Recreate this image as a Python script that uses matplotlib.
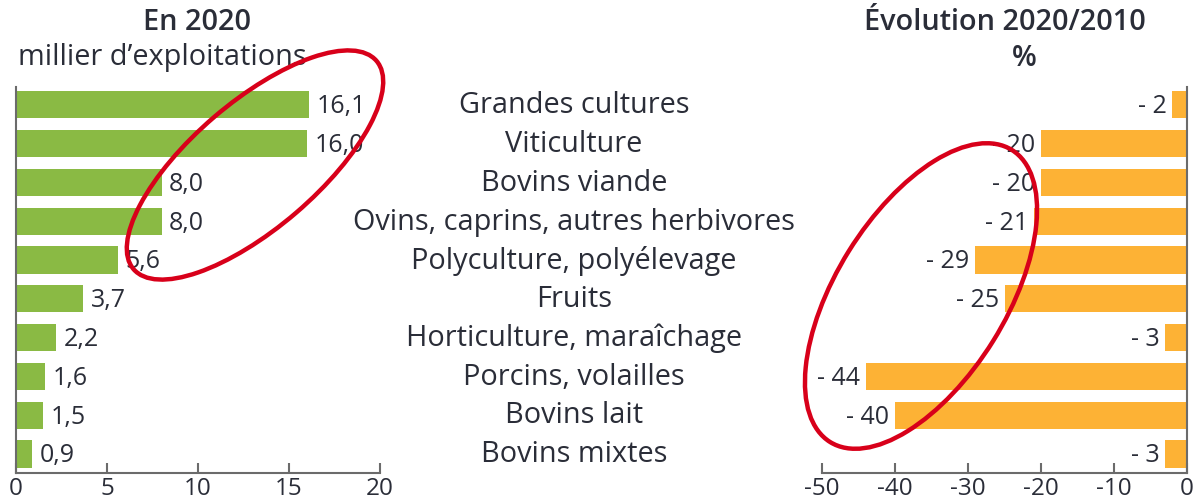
import matplotlib
matplotlib.use("Agg")
import matplotlib.pyplot as plt
import matplotlib.transforms as mtransforms
from matplotlib.patches import Ellipse
import numpy as np

categories = ["Grandes cultures", "Viticulture", "Bovins viande",
              "Ovins, caprins, autres herbivores", "Polyculture, polyélevage",
              "Fruits", "Horticulture, maraîchage", "Porcins, volailles",
              "Bovins lait", "Bovins mixtes"]
farms_2020 = [16.1, 16.0, 8.0, 8.0, 5.6, 3.7, 2.2, 1.6, 1.5, 0.9]
change_pct = [-2, -20, -20, -21, -29, -25, -3, -44, -40, -3]

green = "#8aba44"
orange = "#fdb235"
txt = "#2a2d38"
axcol = "#6b6b6b"
fs_val = 18     # bar values
fs_tick = 17.5  # axis ticks
fs_lab = 20.8   # categories and headers

plt.rcParams['font.family'] = ['Open Sans', 'DejaVu Sans']

W, H = 1194, 501
fig = plt.figure(figsize=(W / 100, H / 100), dpi=100)

def px_axes(x0, x1, ytop, ybot):
    return fig.add_axes([x0 / W, (H - ybot) / H, (x1 - x0) / W, (ybot - ytop) / H])

y = np.arange(len(categories))

# left panel
ax1 = px_axes(16, 380, 87, 473)
ax1.barh(y, farms_2020, height=0.7, color=green)
ax1.set_xlim(0, 20)
ax1.set_ylim(9.49, -0.46)
ax1.set_xticks([0, 5, 10, 15, 20])
ax1.set_yticks([])
for v, yy in zip(farms_2020, y):
    ax1.text(v + 0.4, yy + 0.05, f"{v:.1f}".replace(".", ","), va="center", ha="left",
             fontsize=fs_val, color=txt)

# right panel
ax2 = px_axes(822, 1187, 87, 473)
ax2.barh(y, change_pct, height=0.7, color=orange)
ax2.set_xlim(-50, 0)
ax2.set_ylim(9.49, -0.46)
ax2.set_xticks([-50, -40, -30, -20, -10, 0])
ax2.set_xticklabels(["-50", "-40", "-30", "-20", "-10", "0"])
ax2.set_yticks([])
for v, yy in zip(change_pct, y):
    ax2.text(v - 0.8, yy + 0.05, f"- {abs(v)}", va="center", ha="right",
             fontsize=fs_val, color=txt)

for ax, side in ((ax1, "left"), (ax2, "right")):
    for s in ax.spines.values():
        s.set_visible(False)
    for s in ("bottom", side):
        ax.spines[s].set_visible(True)
        ax.spines[s].set_color(axcol)
        ax.spines[s].set_linewidth(1.5)
    ax.tick_params(axis="x", direction="in", length=7, width=1.5, color=axcol,
                   labelsize=fs_tick, labelcolor=txt, pad=3)
    ax.patch.set_alpha(0)

# category labels in the middle
mid = mtransforms.blended_transform_factory(fig.transFigure, ax1.transData)
for c, yy in zip(categories, y):
    ax1.text(574 / W, yy + 0.02, c, transform=mid, ha="center", va="center",
             fontsize=fs_lab, color=txt)

# headers
fig.text(197 / W, 1 - 22 / H, "En 2020", ha="center", va="center", fontsize=fs_lab,
         fontweight="semibold", color=txt)
fig.text(162 / W, 1 - 58 / H, "millier d’exploitations", ha="center", va="center",
         fontsize=fs_lab, color=txt)
fig.text(1005 / W, 1 - 22 / H, "Évolution 2020/2010", ha="center", va="center",
         fontsize=fs_lab, fontweight="semibold", color=txt)
fig.text(1024 / W, 1 - 58 / H, "%", ha="center", va="center", fontsize=fs_lab,
         fontweight="semibold", color=txt)

# red highlight ellipses (pixel coords, y measured from top)
for cx, cy, w, h, ang in ((255, 165, 320, 126, 40.6), (921, 296, 344, 170, 58.1)):
    fig.patches.append(Ellipse((cx / 100, (H - cy) / 100), w / 100, h / 100, angle=ang,
                               fill=False, edgecolor="#d8001a", linewidth=3.2,
                               transform=fig.dpi_scale_trans, zorder=10))

fig.savefig("out.png", dpi=100)
